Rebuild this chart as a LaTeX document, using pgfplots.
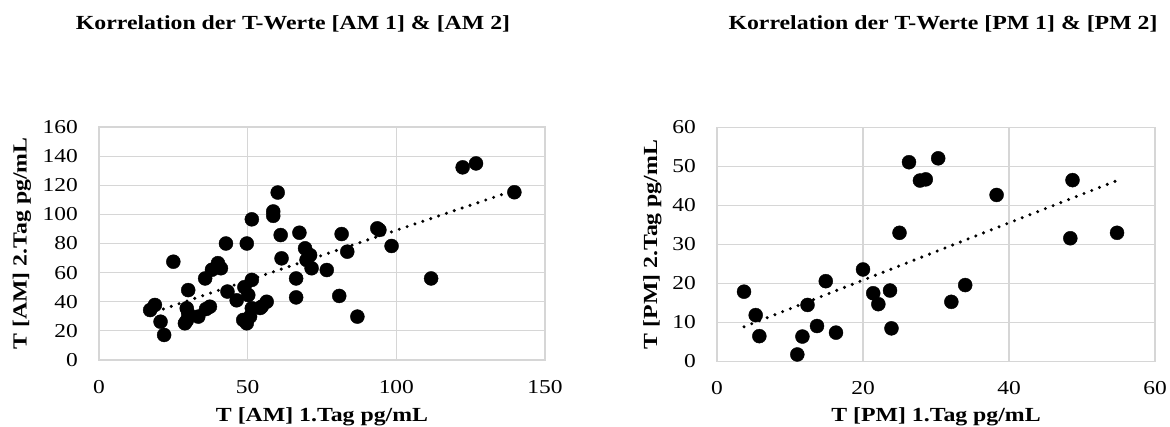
\documentclass[border=0pt]{standalone}
\usepackage{fontspec}
\setmainfont{Liberation Serif}[FakeStretch=1.19]
\usepackage{pgfplots}
\pgfplotsset{compat=1.18}

\definecolor{gridgray}{RGB}{214,214,214}

\pgfplotsset{
  excelscatter/.style={
    scale only axis,
    anchor=south west,
    axis line style={gridgray, line width=1.2pt},
    grid=major,
    grid style={gridgray, line width=1.2pt},
    major tick length=0pt,
    tick style={draw=none},
    /pgf/number format/assume math mode=true,
    ticklabel style={font=\fontsize{19.7}{24}\selectfont, inner sep=0pt},
    xticklabel style={anchor=north, yshift=-20pt},
    yticklabel style={anchor=east, xshift=-21pt},
    label style={font=\fontsize{20}{24}\selectfont\bfseries},
    clip=false,
  },
  dots/.style={only marks, mark=*, mark size=7pt, black, mark options={fill=black, draw=black}},
  trend/.style={black, line width=3.4pt, line cap=round, dash pattern=on 0pt off 8.3pt, no marks},
}

% T-Werte AM: 1. Tag / 2. Tag
\pgfplotstableread{
x y
17.2 34.3
18.8 37.8
20.7 26.3
21.9 17.2
25.0 67.5
28.9 25.2
29.5 35.5
30.0 32.0
30.0 48.0
29.5 27.0
33.4 29.8
35.7 56.0
37.3 36.6
36.0 35.0
38.0 62.0
40.0 66.5
41.0 63.0
42.7 80.0
43.2 47.0
46.3 41.0
48.5 27.5
48.9 50.0
49.7 80.0
49.7 25.2
50.2 44.6
50.8 29.8
51.4 35.5
51.4 55.0
51.4 96.6
54.2 35.7
54.7 36.6
56.4 40.0
58.6 102.0
58.6 99.0
60.1 115.0
61.1 85.8
61.4 69.8
66.3 56.0
66.3 43.0
67.4 87.4
69.3 76.7
69.8 68.7
71.0 72.0
71.5 63.0
76.6 61.8
80.8 44.0
81.6 86.5
83.5 74.4
86.9 29.8
93.6 90.4
94.3 89.3
98.4 78.3
111.7 56.0
122.3 132.3
126.8 135.0
139.7 115.2
}\amdata

% T-Werte PM: 1. Tag / 2. Tag
\pgfplotstableread{
x y
3.7 17.9
5.3 11.9
5.8 6.5
11.0 1.8
11.7 6.4
12.4 14.5
13.7 9.1
14.9 20.6
16.3 7.4
20.0 23.6
21.4 17.5
22.1 14.7
23.7 18.2
23.9 8.5
25.0 33.0
26.3 51.1
27.8 46.4
28.6 46.7
30.3 52.1
32.1 15.3
34.0 19.6
38.3 42.7
48.4 31.6
48.7 46.5
54.8 33.0
}\pmdata

\begin{document}
\begin{tikzpicture}[x=1pt, y=1pt]
\path[use as bounding box] (0,0) rectangle (1170,426);

\node[anchor=base, font=\fontsize{20}{24}\selectfont\bfseries] at (293,396) {Korrelation der T-Werte [AM 1] \& [AM 2]};
\node[anchor=base, font=\fontsize{20}{24}\selectfont\bfseries] at (943,396) {Korrelation der T-Werte [PM 1] \& [PM 2]};

\begin{axis}[
  excelscatter,
  at={(99pt,66pt)},
  width=446pt, height=233pt,
  xmin=0, xmax=150, ymin=0, ymax=160,
  xtick={0,50,100,150},
  ytick={0,20,...,160},
  xlabel={T [AM] 1.Tag pg/mL},
  ylabel={T [AM] 2.Tag pg/mL},
  xlabel style={at={(axis description cs:0.5,-0.265)}, anchor=base},
  ylabel style={at={(axis description cs:-0.162,0.5)}, anchor=base},
]
\addplot[dots] table[x=x, y=y] {\amdata};
\addplot[trend] coordinates {(19,33.2) (139.7,116.5)};
\end{axis}

\begin{axis}[
  excelscatter,
  at={(717pt,64.5pt)},
  width=438pt, height=234pt,
  xmin=0, xmax=60, ymin=0, ymax=60,
  xtick={0,20,40,60},
  ytick={0,10,...,60},
  xlabel={T [PM] 1.Tag pg/mL},
  ylabel={T [PM] 2.Tag pg/mL},
  xlabel style={at={(axis description cs:0.5,-0.256)}, anchor=base},
  ylabel style={at={(axis description cs:-0.137,0.5)}, anchor=base},
]
\addplot[dots] table[x=x, y=y] {\pmdata};
\addplot[trend] coordinates {(3.7,8.9) (54.8,46.4)};
\end{axis}
\end{tikzpicture}
\end{document}
